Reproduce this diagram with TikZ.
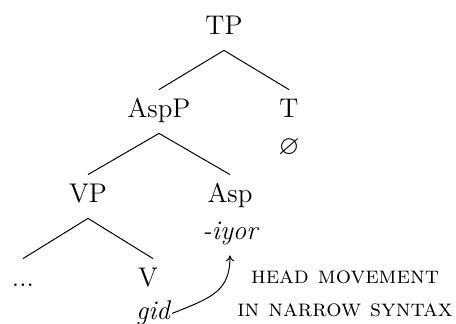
\documentclass[tikz,border=0pt]{standalone}
\usepackage{amssymb}
\usetikzlibrary{arrows.meta}
\begin{document}
\begin{tikzpicture}[x=0.5pt,y=-0.5pt,
  lab/.style={anchor=base,inner xsep=0pt,inner ysep=4pt,text height=10pt,text depth=3.5pt,font=\fontsize{13.5}{16}\selectfont},
  sub/.style={anchor=base,inner sep=1pt,font=\fontsize{13.5}{16}\selectfont},
  sc/.style={anchor=base,inner sep=0pt,font=\fontsize{12}{14}\selectfont\scshape},
  branch/.style={line width=0.5pt},
  move/.style={line width=0.5pt,-{To[length=3pt,width=4pt]}}]
\useasboundingbox (0,0) rectangle (456,324);
\node[lab] (TP) at (224,35) {TP};
\node[lab] (AspP) at (159,118) {AspP};
\node[lab] (T) at (289,118) {T};
\node[sub] (null) at (289,155) {$\varnothing$};
\node[lab] (VP) at (88,203) {VP};
\node[lab] (Asp) at (230,203) {Asp};
\node[lab] (iyor) at (230,240) {\itshape -iyor};
\node[lab] (dots) at (23,287) {...};
\node[lab] (V) at (148,287) {V};
\node[sub] (gid) at (153,320) {\itshape gid};
\node[sc] (h1) at (345,284) {head movement};
\node[sc] (h2) at (345,317) {in narrow syntax};
\draw[branch] (TP.south) -- (AspP.north);
\draw[branch] (TP.south) -- (T.north);
\draw[branch] (AspP.south) -- (VP.north);
\draw[branch] (AspP.south) -- (Asp.north);
\draw[branch] (VP.south) -- (dots.north);
\draw[branch] (VP.south) -- ([xshift=2.5pt]V.north);
\draw[move] (gid.east) .. controls +(20pt,8pt) and +(0pt,-18pt) .. (iyor.south);
\end{tikzpicture}
\end{document}
